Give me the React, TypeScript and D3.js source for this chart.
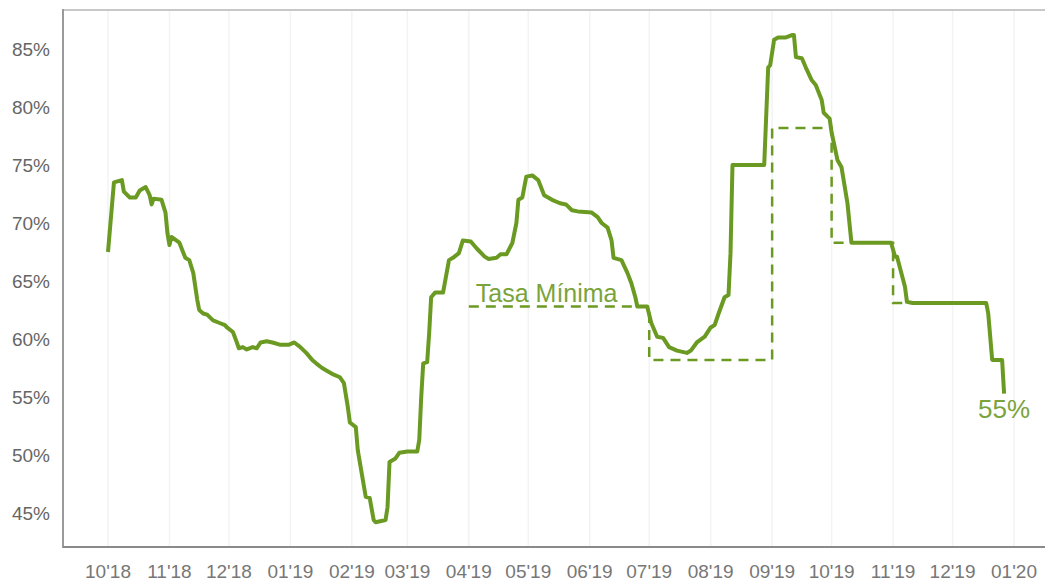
import React from 'react';
import * as d3 from 'd3';

// tasa diaria (lectura aproximada del gráfico)
const rateDates = [
  '2018-10-01', '2018-10-04', '2018-10-08', '2018-10-09', '2018-10-12', '2018-10-15', '2018-10-17',
  '2018-10-20', '2018-10-22', '2018-10-23', '2018-10-24', '2018-10-28', '2018-10-30', '2018-10-31',
  '2018-11-01', '2018-11-02', '2018-11-06', '2018-11-09', '2018-11-11', '2018-11-13', '2018-11-15',
  '2018-11-16', '2018-11-18', '2018-11-20', '2018-11-23', '2018-11-26', '2018-11-29', '2018-11-30',
  '2018-12-03', '2018-12-05', '2018-12-06', '2018-12-08', '2018-12-10', '2018-12-13', '2018-12-15',
  '2018-12-17', '2018-12-20', '2018-12-23', '2018-12-27', '2018-12-31', '2019-01-03', '2019-01-06',
  '2019-01-09', '2019-01-12', '2019-01-14', '2019-01-17', '2019-01-20', '2019-01-22', '2019-01-26',
  '2019-01-28', '2019-01-30', '2019-01-31', '2019-02-03', '2019-02-04', '2019-02-08', '2019-02-10',
  '2019-02-12', '2019-02-13', '2019-02-18', '2019-02-19', '2019-02-20', '2019-02-23', '2019-02-25',
  '2019-03-01', '2019-03-06', '2019-03-07', '2019-03-08', '2019-03-09', '2019-03-11', '2019-03-12',
  '2019-03-13', '2019-03-15', '2019-03-19', '2019-03-22', '2019-03-24', '2019-03-27', '2019-03-29',
  '2019-04-02', '2019-04-05', '2019-04-09', '2019-04-11', '2019-04-15', '2019-04-17', '2019-04-20',
  '2019-04-23', '2019-04-25', '2019-04-26', '2019-04-28', '2019-04-30', '2019-05-03', '2019-05-06',
  '2019-05-09', '2019-05-13', '2019-05-17', '2019-05-20', '2019-05-23', '2019-05-26', '2019-06-02',
  '2019-06-05', '2019-06-07', '2019-06-10', '2019-06-12', '2019-06-13', '2019-06-17', '2019-06-20',
  '2019-06-22', '2019-06-24', '2019-06-25', '2019-06-30', '2019-07-02', '2019-07-05', '2019-07-08',
  '2019-07-11', '2019-07-15', '2019-07-20', '2019-07-22', '2019-07-25', '2019-07-29', '2019-08-01',
  '2019-08-03', '2019-08-05', '2019-08-08', '2019-08-10', '2019-08-11', '2019-08-12', '2019-08-28',
  '2019-08-30', '2019-08-31', '2019-09-02', '2019-09-04', '2019-09-08', '2019-09-11', '2019-09-12',
  '2019-09-13', '2019-09-16', '2019-09-18', '2019-09-21', '2019-09-23', '2019-09-26', '2019-09-27',
  '2019-09-30', '2019-10-01', '2019-10-04', '2019-10-06', '2019-10-09', '2019-10-11', '2019-10-31',
  '2019-11-02', '2019-11-03', '2019-11-07', '2019-11-08', '2019-11-11', '2019-12-18', '2019-12-19',
  '2019-12-21', '2019-12-26', '2019-12-27',
];
const rateValues = [
  67.5, 73.5, 73.7, 72.7, 72.2, 72.2, 72.8,
  73.1, 72.4, 71.6, 72.1, 72.0, 70.9, 69.1,
  68.1, 68.8, 68.3, 67.0, 66.8, 65.7, 63.4,
  62.5, 62.2, 62.1, 61.6, 61.4, 61.2, 61.0,
  60.6, 59.7, 59.2, 59.3, 59.1, 59.3, 59.2,
  59.7, 59.8, 59.7, 59.5, 59.5, 59.7, 59.3,
  58.8, 58.2, 57.9, 57.5, 57.2, 57.0, 56.7,
  56.2, 54.1, 52.8, 52.4, 50.4, 46.4, 46.3,
  44.4, 44.2, 44.4, 45.5, 49.4, 49.7, 50.2,
  50.3, 50.3, 51.3, 55.0, 57.9, 58.0, 60.5,
  63.6, 64.0, 64.0, 66.8, 67.0, 67.4, 68.5,
  68.4, 67.8, 67.1, 66.9, 67.0, 67.3, 67.3,
  68.3, 70.0, 72.0, 72.2, 74.0, 74.1, 73.7,
  72.4, 72.0, 71.7, 71.6, 71.1, 71.0, 70.9,
  70.5, 70.0, 69.6, 68.5, 67.0, 66.8, 65.7,
  64.8, 63.6, 62.8, 62.8, 61.4, 60.2, 60.1,
  59.3, 59.0, 58.8, 59.0, 59.7, 60.2, 61.0,
  61.2, 62.2, 63.6, 63.8, 67.4, 75.0, 75.0,
  83.4, 83.6, 85.8, 86.0, 86.0, 86.2, 86.2,
  84.3, 84.2, 83.4, 82.3, 81.9, 80.6, 79.5,
  79.0, 77.8, 75.4, 74.8, 71.7, 68.3, 68.3,
  67.1, 67.1, 64.5, 63.2, 63.1, 63.1, 62.2,
  58.2, 58.2, 55.3,
];

// tasa mínima (escalones)
const minDates = ['2019-04-01', '2019-07-01', '2019-09-01', '2019-10-01', '2019-11-01', '2019-12-19'];
const minValues = [62.8, 58.2, 78.2, 68.3, 63.1, 63.1];

const yTicks = [45, 50, 55, 60, 65, 70, 75, 80, 85];
const lastLabel = '55%';
const minLabel = 'Tasa Mínima';

const W = 1045;
const H = 582;
const FONT = '"Liberation Sans", Arial, sans-serif';
const GREEN = '#6b9a22';
const TEXT_GREEN = '#7aa33c';

const parse = d3.timeParse('%Y-%m-%d');

export default function App() {
  const x = d3
    .scaleTime()
    .domain([new Date(2018, 9, 1), new Date(2020, 0, 1)])
    .range([108, 1014]);
  const y = d3.scaleLinear().domain([45, 85]).range([513, 49]);

  const top = 10;
  const bottom = 547;
  const left = 63;

  const rate = rateDates.map((d, i) => ({ date: parse(d) as Date, value: rateValues[i] }));
  const minRate = minDates.map((d, i) => ({ date: parse(d) as Date, value: minValues[i] }));

  const line = d3
    .line<{ date: Date; value: number }>()
    .x((d) => x(d.date))
    .y((d) => y(d.value));
  const stepLine = d3
    .line<{ date: Date; value: number }>()
    .x((d) => x(d.date))
    .y((d) => y(d.value))
    .curve(d3.curveStepAfter);

  const months = x.ticks(d3.timeMonth.every(1)!);
  const fmt = d3.timeFormat("%m'%y");
  const last = rate[rate.length - 1];
  const firstMin = minRate[0];

  return (
    <div style={{ position: 'absolute', left: 0, top: 0 }}>
      <svg width={W} height={H} style={{ display: 'block', fontFamily: FONT }}>
        <rect width={W} height={H} fill="#fff" />
        {months.map((m) => (
          <line key={+m} x1={x(m)} x2={x(m)} y1={top} y2={bottom} stroke="#f3f3f3" strokeWidth={1.5} />
        ))}
        <line x1={left} x2={W} y1={top} y2={top} stroke="#c8c8c8" strokeWidth={2} />
        <line x1={left} x2={left} y1={top - 1} y2={bottom + 1} stroke="#9a9a9a" strokeWidth={2} />
        <line x1={left} x2={W} y1={bottom} y2={bottom} stroke="#8a8a8a" strokeWidth={2} />

        {yTicks.map((t) => (
          <text key={t} x={50} y={y(t)} dy="0.35em" textAnchor="end" fontSize={19} fill="#666">
            {t}%
          </text>
        ))}
        {months.map((m) => (
          <text key={'l' + +m} x={x(m)} y={578} textAnchor="middle" fontSize={19} fill="#777">
            {fmt(m)}
          </text>
        ))}

        <path
          d={stepLine(minRate) || ''}
          fill="none"
          stroke={GREEN}
          strokeWidth={2.5}
          strokeDasharray="10 7"
        />
        <path d={line(rate) || ''} fill="none" stroke={GREEN} strokeWidth={4} strokeLinejoin="round" />

        <text x={x(firstMin.date) + 7} y={y(firstMin.value) - 5} fontSize={25} fill={TEXT_GREEN}>
          {minLabel}
        </text>
        <text x={x(last.date)} y={y(last.value) + 24} textAnchor="middle" fontSize={26} fill={TEXT_GREEN}>
          {lastLabel}
        </text>
      </svg>
    </div>
  );
}
